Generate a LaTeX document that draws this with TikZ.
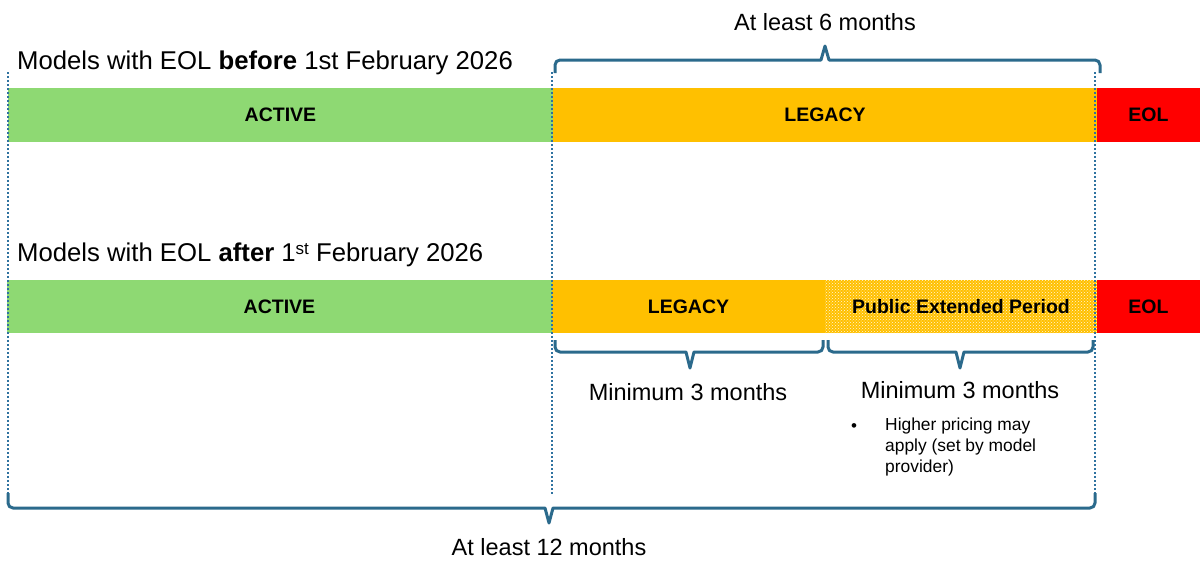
\documentclass[tikz,border=0pt]{standalone}
\usepackage{fontspec}
\setmainfont{Liberation Sans}
\usetikzlibrary{patterns}
\definecolor{activegreen}{HTML}{8ED973}
\definecolor{legacyorange}{HTML}{FFC000}
\definecolor{eolred}{HTML}{FF0000}
\definecolor{bracecol}{HTML}{2B6A8C}
\definecolor{dotcol}{HTML}{2F72A0}
\begin{document}
\begin{tikzpicture}[x=1pt,y=-1pt,
  bar/.style={draw=none,inner sep=0pt,font=\fontsize{19.5}{22}\selectfont\bfseries},
  guide/.style={draw=dotcol,line width=2pt,dash pattern=on 2pt off 2pt},
  bracepath/.style={draw=bracecol,line width=3pt,line join=round},
  lbl/.style={inner sep=0pt,font=\fontsize{23.5}{27}\selectfont},
  title/.style={inner sep=0pt,anchor=west,font=\fontsize{25.7}{30}\selectfont}]
\useasboundingbox (0,0) rectangle (1200,576);
\fill[white] (0,0) rectangle (1200,576);
% row 1
\node[bar,fill=activegreen,minimum width=545pt,minimum height=54pt] (a1) at (280.5,115) {ACTIVE};
\node[bar,fill=legacyorange,minimum width=544pt,minimum height=54pt] (l1) at (825,115) {LEGACY};
\node[bar,fill=eolred,minimum width=103pt,minimum height=54pt] (e1) at (1148.5,115) {EOL};
% row 2
\node[bar,fill=activegreen,minimum width=545pt,minimum height=53pt] (a2) at (279.5,306.5) {ACTIVE};
\node[bar,fill=legacyorange,minimum width=273pt,minimum height=53pt] (l2) at (688.5,306.5) {LEGACY};
\fill[legacyorange] (825,280) rectangle (1097,333);
\fill[pattern=crosshatch dots,pattern color=white!85!legacyorange] (825,280) rectangle (1097,333);
\node[bar,minimum width=272pt,minimum height=53pt] (p2) at (961,306.5) {Public Extended Period};
\node[bar,fill=eolred,minimum width=103pt,minimum height=53pt] (e2) at (1148.5,306.5) {EOL};
% titles
\node[title] (t1) at (17,63) {Models with EOL \textbf{before} 1st February 2026};
\node[title] (t2) at (17,255) {Models with EOL \textbf{after} 1{\fontsize{17}{20}\selectfont\raisebox{0.45em}{st}} February 2026};
% guide lines
\coordinate (g1t) at (8,72);   \coordinate (g1b) at (8,493);
\coordinate (g2t) at (552,72); \coordinate (g2b) at (552,495);
\coordinate (g3t) at (1095,72);\coordinate (g3b) at (1095,493);
\draw[guide] (g1t) -- (g1b);
\draw[guide] (g2t) -- (g2b);
\draw[guide] (g3t) -- (g3b);
% top brace
\draw[bracepath] (555,73) [rounded corners=5pt] -- (555,60) [sharp corners] -- (821,60) -- (825,46) -- (829,60) [rounded corners=5pt] -- (1100,60) [sharp corners] -- (1100,73);
\node[lbl] (m6) at (825,22) {At least 6 months};
% row 2 braces
\draw[bracepath] (555,340) [rounded corners=5pt] -- (555,352) [sharp corners] -- (686,352) -- (690,368) -- (694,352) [rounded corners=5pt] -- (823,352) [sharp corners] -- (823,340);
\draw[bracepath] (828,340) [rounded corners=5pt] -- (828,352) [sharp corners] -- (956,352) -- (960,368) -- (964,352) [rounded corners=5pt] -- (1093,352) [sharp corners] -- (1093,340);
\node[lbl] (min1) at (688,392) {Minimum 3 months};
\node[lbl] (min2) at (960,390) {Minimum 3 months};
\node[inner sep=0pt,font=\fontsize{17}{21}\selectfont] (bul) at (854,428) {•};
\node[inner sep=0pt,anchor=north west,align=left,font=\fontsize{17.4}{21}\selectfont] (note) at (885,418) {Higher pricing may\\apply (set by model\\provider)};
% bottom brace
\draw[bracepath] (8,493) [rounded corners=5pt] -- (8,508) [sharp corners] -- (545,508) -- (549,523) -- (553,508) [rounded corners=5pt] -- (1095,508) [sharp corners] -- (1095,493);
\node[lbl] (m12) at (549,547) {At least 12 months};
\end{tikzpicture}
\end{document}
